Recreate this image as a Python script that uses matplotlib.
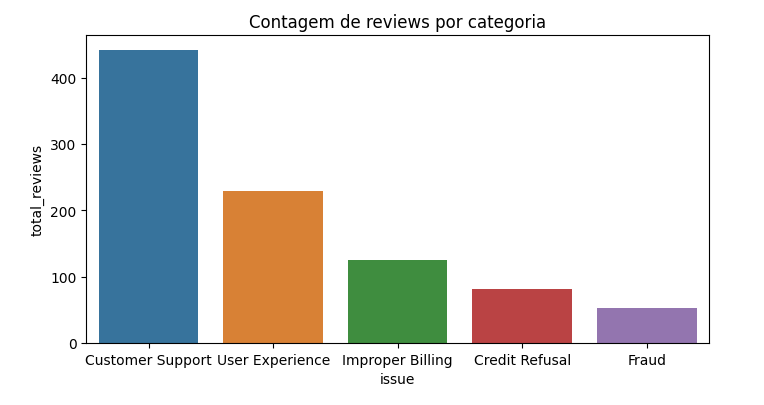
import matplotlib
matplotlib.use('Agg')
import matplotlib.pyplot as plt
import seaborn as sns
import pandas as pd

# Data
issues = ['Customer Support', 'User Experience', 'Improper Billing', 'Credit Refusal', 'Fraud']
total_reviews = [442, 229, 125, 82, 52]

df = pd.DataFrame({'issue': issues, 'total_reviews': total_reviews})

# slightly muted tab10, as in the reference
colors = sns.color_palette('tab10', n_colors=len(issues), desat=0.9)

fig, ax = plt.subplots(figsize=(7.64, 4.06), dpi=100)
sns.barplot(data=df, x='issue', y='total_reviews', hue='issue', palette=colors,
            saturation=0.75, ax=ax, legend=False)
ax.set_title('Contagem de reviews por categoria')
ax.set_xlabel('issue')
ax.set_ylabel('total_reviews')
plt.subplots_adjust(left=0.113, right=0.928, top=0.911, bottom=0.153)
plt.savefig('out.png', dpi=100)
